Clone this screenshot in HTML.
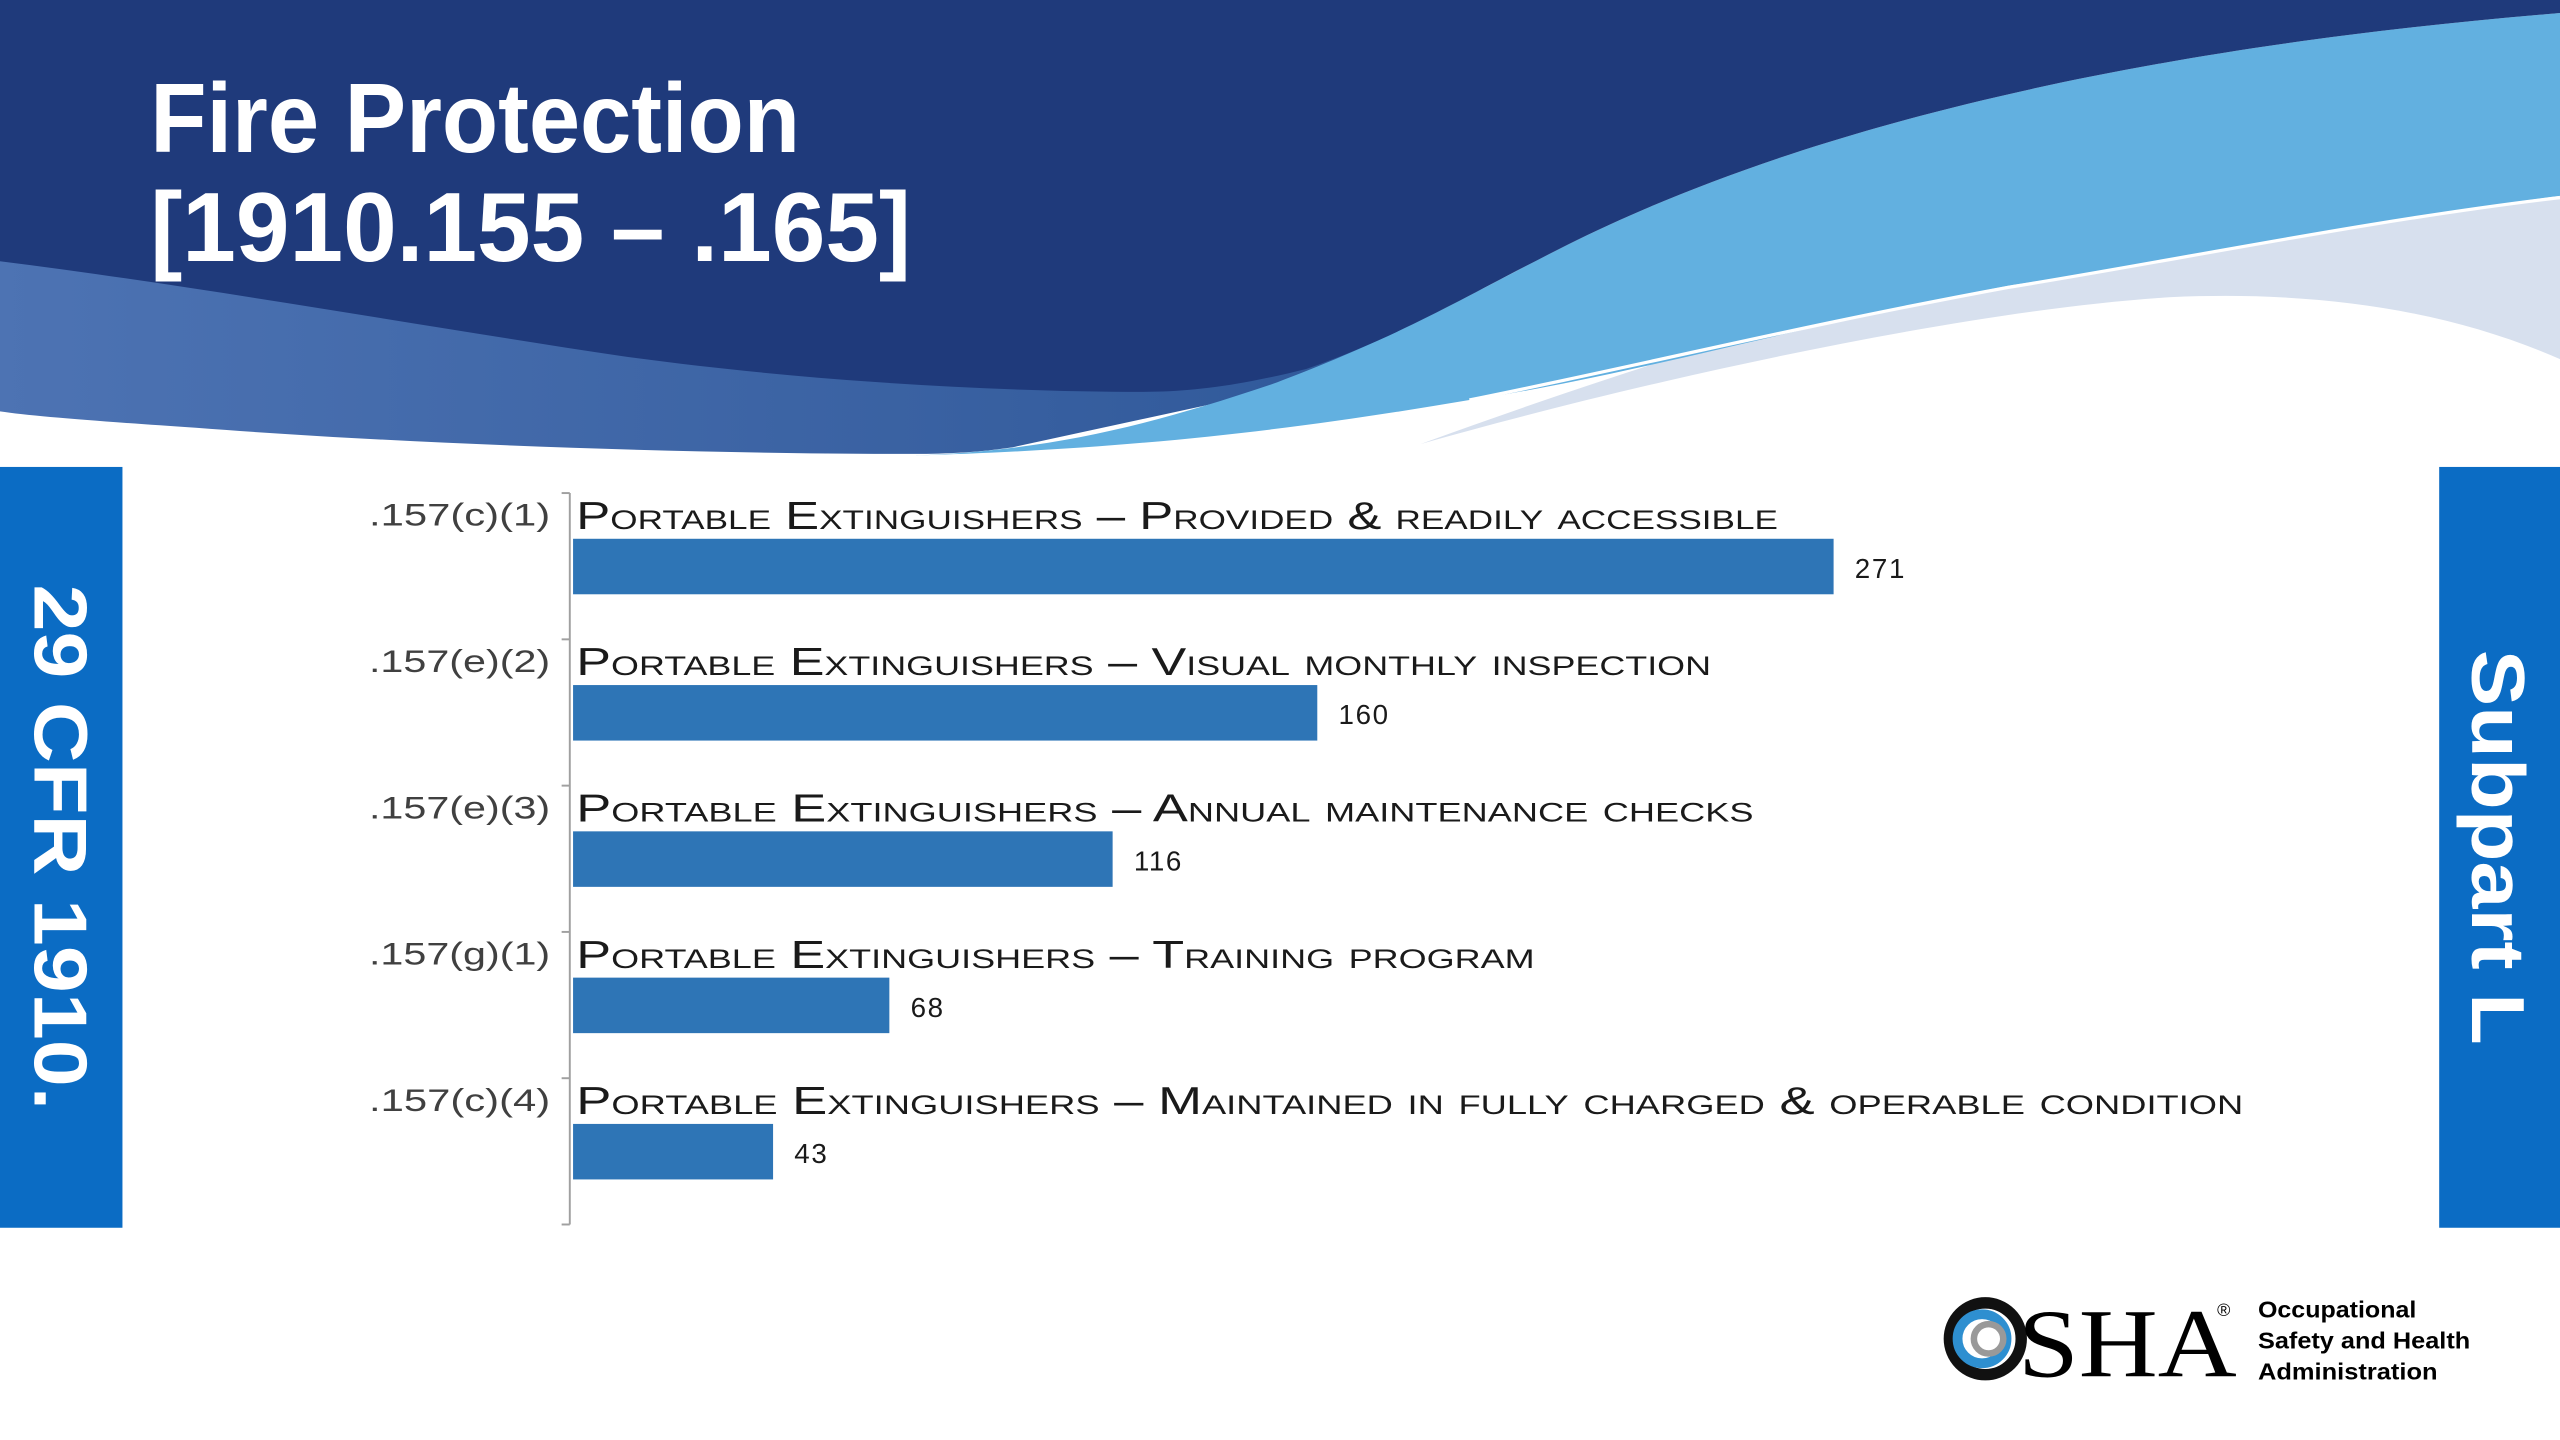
<!DOCTYPE html>
<html><head><meta charset="utf-8"><style>
html,body{margin:0;padding:0;background:#fff;}
svg{display:block;}
</style></head><body>
<svg id="slide" width="2560" height="1440" viewBox="0 0 1568 882" preserveAspectRatio="none" xmlns="http://www.w3.org/2000/svg">
<defs>
<linearGradient id="mid" x1="0" y1="0" x2="1" y2="0"><stop offset="0" stop-color="#4d73b3"/><stop offset="1" stop-color="#2c5596"/></linearGradient>
</defs>
<rect width="1568" height="882" fill="#ffffff"/>
<g>
<path fill="url(#mid)" d="M0,0 H950 V150 L800,235 L620,274 C600,277 580,278 560,278 C420,278 250,272 120,262 C60,258 20,255 0,252 Z"/>
<path fill="#d7e0ee" d="M870,272 C1000,235 1200,190 1330,182 C1420,178 1500,190 1568,220 V90 C1350,130 1150,170 870,272 Z"/>
<path fill="#62b0e0" d="M560,279 C640,276 700,262 780,235 C860,205 900,180 960,150 C1100,80 1300,30 1568,8 V120 C1450,135 1330,160 1230,175 C1100,200 1000,230 900,245 C800,262 700,275 560,279 Z"/>
<path fill="#1f3a7b" d="M0,0 H1568 V8 C1300,30 1100,80 960,150 C900,180 860,205 800,226 C760,236 730,240 700,240 C600,240 480,232 380,218 C260,200 120,175 0,160 Z"/>
<path fill="none" stroke="#ffffff" stroke-width="2" d="M900,245 C1000,225 1100,200 1230,176 C1330,160 1450,135 1568,121"/>
<text x="92" y="93" fill="#ffffff" font-family="Liberation Sans, sans-serif" font-weight="bold" font-size="60" textLength="398" lengthAdjust="spacingAndGlyphs">Fire Protection</text>
<text x="92" y="160" fill="#ffffff" font-family="Liberation Sans, sans-serif" font-weight="bold" font-size="60" textLength="466" lengthAdjust="spacingAndGlyphs">[1910.155 – .165]</text>
</g>
<g>
<rect x="0" y="286" width="75" height="466" fill="#0b6cc4"/>
<text transform="translate(21,519) rotate(90)" text-anchor="middle" fill="#ffffff" font-family="Liberation Sans, sans-serif" font-weight="bold" font-size="46" textLength="322" lengthAdjust="spacingAndGlyphs">29 CFR 1910.</text>
</g>
<g>
<rect x="1494" y="286" width="74" height="466" fill="#0b6cc4"/>
<text transform="translate(1514,519) rotate(90)" text-anchor="middle" fill="#ffffff" font-family="Liberation Sans, sans-serif" font-weight="bold" font-size="46" textLength="242" lengthAdjust="spacingAndGlyphs">Subpart L</text>
</g>
<g id="chart"></g>
<g>
<circle cx="1216" cy="820" r="22" fill="none" stroke="#111" stroke-width="7"/>
<circle cx="1214" cy="820" r="15" fill="none" stroke="#2e8fd0" stroke-width="6"/>
<circle cx="1218" cy="820" r="9" fill="none" stroke="#999" stroke-width="4"/>
<text x="1236" y="843" fill="#000" font-family="Liberation Serif, serif" font-size="60" textLength="134" lengthAdjust="spacingAndGlyphs">SHA</text>
<text x="1358" y="806" fill="#000" font-family="Liberation Sans, sans-serif" font-size="11">®</text>
<text x="1383" y="807" fill="#000" font-family="Liberation Sans, sans-serif" font-weight="bold" font-size="14" textLength="97" lengthAdjust="spacingAndGlyphs">Occupational</text>
<text x="1383" y="826" fill="#000" font-family="Liberation Sans, sans-serif" font-weight="bold" font-size="14" textLength="130" lengthAdjust="spacingAndGlyphs">Safety and Health</text>
<text x="1383" y="845" fill="#000" font-family="Liberation Sans, sans-serif" font-weight="bold" font-size="14" textLength="110" lengthAdjust="spacingAndGlyphs">Administration</text>
</g>
</svg>
<script>
const codes = [".157(c)(1)", ".157(e)(2)", ".157(e)(3)", ".157(g)(1)", ".157(c)(4)"];
const categories = ["Portable Extinguishers – Provided & readily accessible", "Portable Extinguishers – Visual monthly inspection", "Portable Extinguishers – Annual maintenance checks", "Portable Extinguishers – Training program", "Portable Extinguishers – Maintained in fully charged & operable condition"];
const values = [271, 160, 116, 68, 43];

const NS = "http://www.w3.org/2000/svg";
const chartG = document.getElementById("chart");
const X0 = 351, Y_TOP = 302, Y_BOTTOM = 750, UNIT = 2.849;
const BAND = (Y_BOTTOM - Y_TOP) / categories.length;
const labelWidths = [736, 695, 721, 587, 1021];
function xScale(v) { return X0 + v * UNIT; }
function yBand(i) { return Y_TOP + i * BAND; }
function mk(tag, attrs) { const e = document.createElementNS(NS, tag); for (const k in attrs) e.setAttribute(k, attrs[k]); chartG.appendChild(e); return e; }

const axis = mk("line", {x1: 349, x2: 349, y1: Y_TOP, y2: Y_BOTTOM, stroke: "#a0a0a0", "stroke-width": 1.2});


for (let i = 0; i <= categories.length; i++) {
  const t = mk("line", {x1: 344, x2: 349, y1: yBand(i), y2: yBand(i), stroke: "#a0a0a0", "stroke-width": 1.2});
  
  
}
categories.forEach(function (c, i) {
  const y = yBand(i);
  const code = mk("text", {x: 226, y: y + 20, fill: "#404040", "font-family": "Liberation Sans, sans-serif", "font-size": 19, textLength: 111, lengthAdjust: "spacingAndGlyphs"});
  code.textContent = codes[i];
  
  
  const lab = mk("text", {x: 353, y: y + 22, fill: "#1a1a1a", "font-family": "Liberation Sans, sans-serif", "font-size": 24, "font-variant": "small-caps", textLength: labelWidths[i] || 700, lengthAdjust: "spacingAndGlyphs"});
  lab.textContent = c;
  
  
  const by = y + 28;
  const bar = mk("rect", {x: X0, y: by, width: xScale(values[i]) - X0, height: 34, fill: "#2e75b6"});
  
  
  const val = mk("text", {x: xScale(values[i]) + 13, y: by + 24, fill: "#1a1a1a", "font-family": "Liberation Sans, sans-serif", "font-size": 17, "letter-spacing": 1});
  val.textContent = values[i];
  
  
});
</script>
</body></html>
